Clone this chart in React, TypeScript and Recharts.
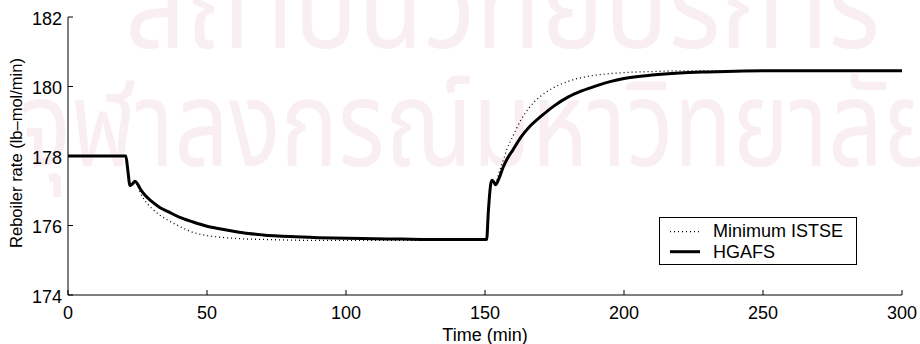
import React from 'react';
import { LineChart, Line, XAxis, YAxis, Legend } from 'recharts';

// ---- data ----
const times = [0, 20, 20.8, 21.5, 22.3, 23.2, 24.1, 25, 26, 28, 30, 33, 36, 40, 45, 50, 55, 60, 65, 70, 80, 90, 100, 110, 120, 130, 140, 150, 150.6, 151.2, 152.4, 153.2, 153.8, 155, 156.6, 158, 160, 163, 166, 170, 175, 180, 185, 190, 195, 200, 210, 220, 230, 240, 250, 260, 280, 300];
const hgafs = [178, 178, 178, 177.6, 177.15, 177.2, 177.27, 177.2, 177.05, 176.85, 176.7, 176.52, 176.4, 176.24, 176.1, 175.98, 175.9, 175.83, 175.77, 175.73, 175.68, 175.65, 175.63, 175.62, 175.61, 175.6, 175.6, 175.6, 175.6, 176.4, 177.3, 177.25, 177.17, 177.35, 177.69, 177.92, 178.17, 178.55, 178.84, 179.13, 179.45, 179.7, 179.88, 180.02, 180.14, 180.23, 180.33, 180.39, 180.42, 180.44, 180.45, 180.45, 180.45, 180.45];
const minIstse = [178, 178, 178, 177.6, 177.15, 177.2, 177.25, 177.15, 176.95, 176.68, 176.5, 176.3, 176.15, 175.98, 175.8, 175.71, 175.66, 175.63, 175.61, 175.6, 175.58, 175.57, 175.57, 175.57, 175.57, 175.57, 175.57, 175.57, 175.57, 176.4, 177.3, 177.27, 177.22, 177.5, 177.88, 178.22, 178.56, 179.05, 179.4, 179.72, 179.98, 180.15, 180.26, 180.33, 180.37, 180.4, 180.43, 180.45, 180.45, 180.45, 180.45, 180.45, 180.45, 180.45];
const xTicks = [0, 50, 100, 150, 200, 250, 300];
const yTicks = [174, 176, 178, 180, 182];
const seriesNames = ['Minimum ISTSE', 'HGAFS'];
const xLabel = 'Time (min)';
const yLabel = 'Reboiler rate (lb–mol/min)';
const watermarkLines = ['สถาบันวิทยบริการ', 'จุฬาลงกรณ์มหาวิทยาลัย'];

const data = times.map((t, i) => ({ t, hgafs: hgafs[i], istse: minIstse[i] }));

const FONT = '"Liberation Sans", Arial, Helvetica, sans-serif';
const THAI_FONT = '"Noto Sans Thai", "Noto Serif Thai", Loma, Garuda, Norasi, Waree, "Tlwg Typist", sans-serif';

const BottomTick = (props: any) => {
  const { x, y, payload } = props;
  return (
    <g>
      <line x1={x} x2={x} y1={y} y2={y - 5} stroke="#000" strokeWidth={1} />
      <text x={x} y={y + 24} textAnchor="middle" fontSize={18} fontFamily={FONT} fill="#000">
        {payload.value}
      </text>
    </g>
  );
};
const TopTick = (props: any) => {
  const { x, y } = props;
  return <line x1={x} x2={x} y1={y} y2={y + 5} stroke="#000" strokeWidth={1} />;
};
const LeftTick = (props: any) => {
  const { x, y, payload } = props;
  return (
    <g>
      <line x1={x} x2={x + 5} y1={y} y2={y} stroke="#000" strokeWidth={1} />
      <text x={x - 6} y={y + 7.5} textAnchor="end" fontSize={18} fontFamily={FONT} fill="#000">
        {payload.value}
      </text>
    </g>
  );
};
const RightTick = (props: any) => {
  const { x, y } = props;
  return <line x1={x} x2={x - 5} y1={y} y2={y} stroke="#000" strokeWidth={1} />;
};

const LegendBox = () => (
  <svg width={198} height={48} style={{ display: 'block' }}>
    <rect x={0.5} y={0.5} width={197} height={47} fill="#fff" stroke="#000" strokeWidth={1} />
    <line x1={11} x2={41} y1={14.7} y2={14.7} stroke="#000" strokeWidth={1.3} strokeDasharray="1 3" />
    <text x={54} y={19.5} fontSize={18} fontFamily={FONT} fill="#000">{seriesNames[0]}</text>
    <line x1={11} x2={41} y1={34.7} y2={34.7} stroke="#000" strokeWidth={3} />
    <text x={54} y={40.5} fontSize={18} fontFamily={FONT} fill="#000">{seriesNames[1]}</text>
  </svg>
);

export default function App() {
  return (
    <div style={{ position: 'absolute', left: 0, top: 0, width: 920, height: 344, background: '#fff' }}>
      <svg width={920} height={344} style={{ position: 'absolute', left: 0, top: 0 }}>
        <text x={125} y={48} fontSize={120} fontFamily={THAI_FONT} fill="#f9eff3" textLength={755} lengthAdjust="spacingAndGlyphs">
          {watermarkLines[0]}
        </text>
        <text x={20} y={166} fontSize={120} fontFamily={THAI_FONT} fill="#f9eff3" textLength={920} lengthAdjust="spacingAndGlyphs">
          {watermarkLines[1]}
        </text>
      </svg>
      <div style={{ position: 'absolute', left: 0, top: 0 }}>
        <LineChart width={920} height={344} data={data} margin={{ top: 17, right: 18, bottom: 0, left: 0 }}>
          <XAxis
            xAxisId={0}
            dataKey="t"
            type="number"
            domain={[0, 300]}
            ticks={xTicks}
            interval={0}
            allowDataOverflow
            height={49}
            tickSize={0}
            tickMargin={0}
            tickLine={false}
            axisLine={{ stroke: '#000', strokeWidth: 1 }}
            tick={<BottomTick />}
          />
          <XAxis
            xAxisId="top"
            orientation="top"
            dataKey="t"
            type="number"
            domain={[0, 300]}
            ticks={xTicks}
            interval={0}
            allowDataOverflow
            height={0}
            tickSize={0}
            tickMargin={0}
            tickLine={false}
            axisLine={{ stroke: '#000', strokeWidth: 1 }}
            tick={<TopTick />}
          />
          <YAxis
            yAxisId={0}
            type="number"
            domain={[174, 182]}
            ticks={yTicks}
            interval={0}
            allowDataOverflow
            width={68}
            tickSize={0}
            tickMargin={0}
            tickLine={false}
            axisLine={{ stroke: '#000', strokeWidth: 1 }}
            tick={<LeftTick />}
          />
          <YAxis
            yAxisId="right"
            orientation="right"
            type="number"
            domain={[174, 182]}
            ticks={yTicks}
            interval={0}
            allowDataOverflow
            width={0}
            tickSize={0}
            tickMargin={0}
            tickLine={false}
            axisLine={{ stroke: '#000', strokeWidth: 1 }}
            tick={<RightTick />}
          />
          <Legend
            layout="vertical"
            align="center"
            verticalAlign="middle"
            content={() => <LegendBox />}
            wrapperStyle={{ position: 'absolute', left: 659, top: 217, width: 198, height: 48 }}
          />
          <Line
            xAxisId={0}
            yAxisId={0}
            type="monotone"
            dataKey="istse"
            name={seriesNames[0]}
            stroke="#000"
            strokeWidth={1.3}
            strokeDasharray="1 3"
            dot={false}
            isAnimationActive={false}
          />
          <Line
            xAxisId={0}
            yAxisId={0}
            type="monotone"
            dataKey="hgafs"
            name={seriesNames[1]}
            stroke="#000"
            strokeWidth={3}
            dot={false}
            isAnimationActive={false}
          />
        </LineChart>
      </div>
      <svg width={920} height={344} style={{ position: 'absolute', left: 0, top: 0, pointerEvents: 'none' }}>
        <text x={485} y={340.5} textAnchor="middle" fontSize={18} fontFamily={FONT} fill="#000">{xLabel}</text>
        <text x={22} y={153} textAnchor="middle" fontSize={16.5} fontFamily={FONT} fill="#000" transform="rotate(-90, 22, 153)">
          {yLabel}
        </text>
      </svg>
    </div>
  );
}
